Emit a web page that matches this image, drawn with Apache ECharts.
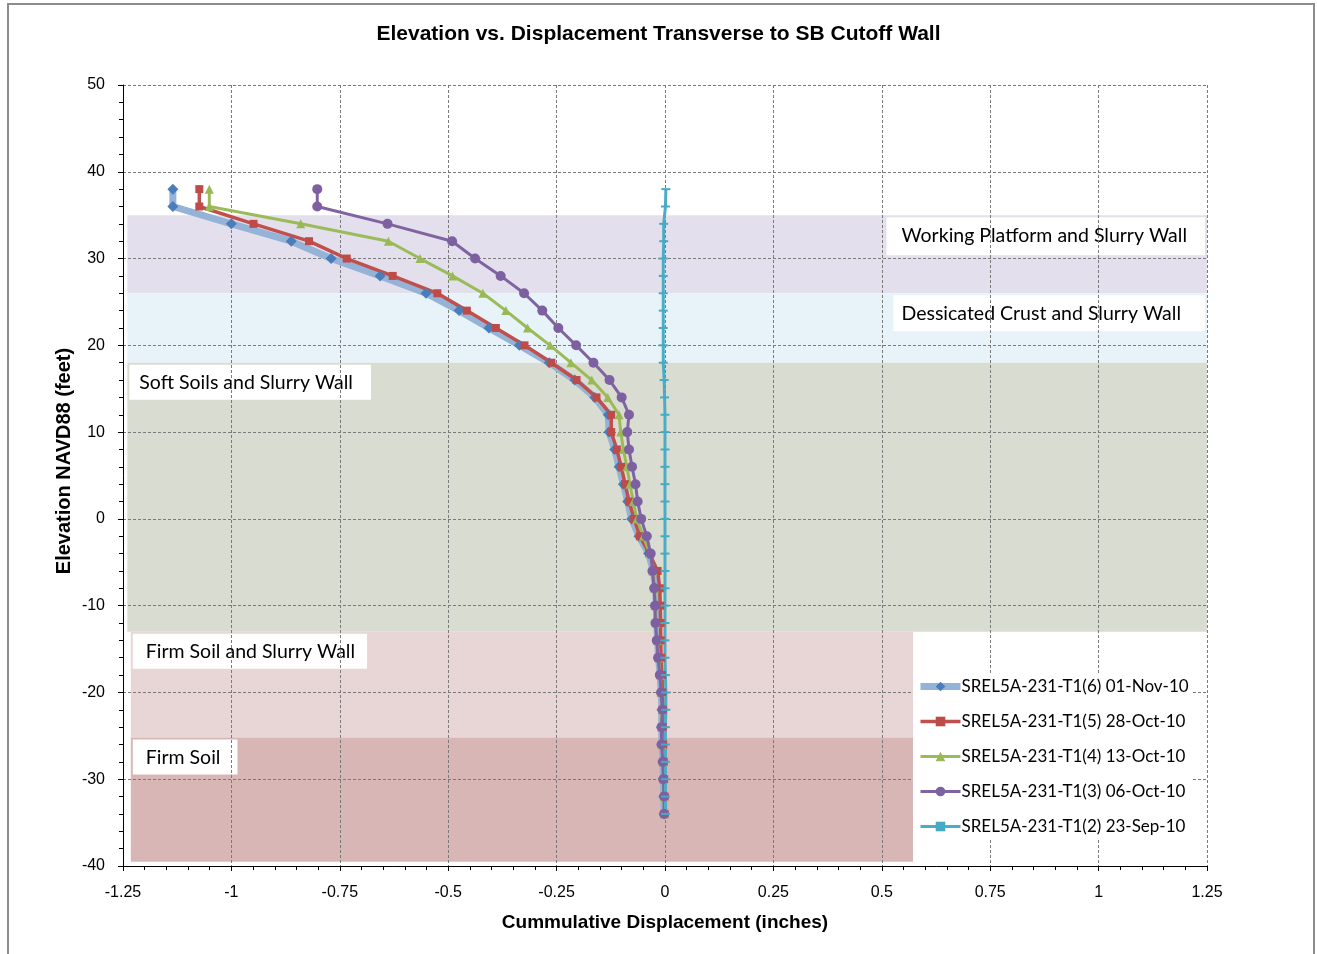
<!DOCTYPE html>
<html>
<head>
<meta charset="utf-8">
<script src="https://cdn.jsdelivr.net/npm/echarts@6/dist/echarts.min.js"></script>
<style>
html,body{margin:0;padding:0;background:#fff;}
#chart{width:1317px;height:954px;}
</style>
</head>
<body>
<div id="chart"></div>
<script>
// ---- data ----
var elevations = [38,36,34,32,30,28,26,24,22,20,18,16,14,12,10,8,6,4,2,0,-2,-4,-6,-8,-10,-12,-14,-16,-18,-20,-22,-24,-26,-28,-30,-32,-34];

var seriesNames = [
  'SREL5A-231-T1(6) 01-Nov-10',
  'SREL5A-231-T1(5) 28-Oct-10',
  'SREL5A-231-T1(4) 13-Oct-10',
  'SREL5A-231-T1(3) 06-Oct-10',
  'SREL5A-231-T1(2) 23-Sep-10'
];

var dispT6 = [-1.135,-1.135,-1.000,-0.862,-0.770,-0.657,-0.551,-0.475,-0.406,-0.336,-0.267,-0.208,-0.162,-0.131,-0.129,-0.116,-0.106,-0.096,-0.086,-0.077,-0.060,-0.038,-0.027,-0.022,-0.020,-0.019,-0.017,-0.015,-0.011,-0.009,-0.007,-0.008,-0.007,-0.005,-0.004,-0.003,-0.002];
var dispT5 = [-1.074,-1.074,-0.949,-0.821,-0.734,-0.628,-0.525,-0.457,-0.390,-0.324,-0.262,-0.204,-0.158,-0.124,-0.124,-0.111,-0.101,-0.092,-0.083,-0.071,-0.058,-0.036,-0.017,-0.012,-0.011,-0.010,-0.010,-0.009,-0.007,-0.006,-0.005,-0.005,-0.004,-0.003,-0.002,-0.001,-0.001];
var dispT4 = [-1.051,-1.051,-0.840,-0.638,-0.565,-0.490,-0.420,-0.367,-0.317,-0.265,-0.217,-0.169,-0.132,-0.106,-0.102,-0.096,-0.088,-0.081,-0.073,-0.065,-0.050,-0.035,-0.028,-0.024,-0.022,-0.021,-0.018,-0.015,-0.011,-0.009,-0.007,-0.008,-0.007,-0.005,-0.004,-0.002,-0.001];
var dispT3 = [-0.802,-0.802,-0.640,-0.491,-0.438,-0.379,-0.325,-0.283,-0.246,-0.205,-0.165,-0.128,-0.100,-0.083,-0.087,-0.083,-0.076,-0.068,-0.063,-0.055,-0.042,-0.033,-0.029,-0.025,-0.023,-0.022,-0.019,-0.016,-0.012,-0.009,-0.006,-0.008,-0.008,-0.005,-0.004,-0.002,-0.002];
var dispT2 = [0.002,0.001,-0.003,-0.003,-0.004,-0.004,-0.004,-0.004,-0.004,-0.004,-0.004,-0.002,-0.001,0.000,0.000,0.000,0.000,0.000,0.000,0.000,0.000,0.000,0.000,0.000,0.000,0.000,0.000,0.000,0.001,0.002,0.002,0.001,0.001,0.001,0.001,0.001,0.001];

// soil layers: name, top elevation, bottom elevation, left displacement, right displacement
var layerNames  = ['Working Platform and Slurry Wall','Dessicated Crust and Slurry Wall','Soft Soils and Slurry Wall','Firm Soil and Slurry Wall','Firm Soil'];
var layerTop    = [35, 26, 18, -13, -25.2];
var layerBottom = [26, 18, -13, -25.2, -39.5];
var layerLeft   = [-1.24, -1.24, -1.24, -1.232, -1.232];
var layerRight  = [1.25, 1.25, 1.25, 0.572, 0.572];

// ---- styles ----
var layerColors = ['#E4DFEC','#E7F3F9','#D9DCD0','#E8D5D6','#D8B6B6'];
var layerLabelPos = ['insideTopRight','insideTopRight','insideTopLeft','insideTopLeft','insideTopLeft'];
var layerLabelPad = [[9,18,9,15],[8,24,8,8],[8,18,7,10],[8,12,7,13],[8,17,7,13]];
var seriesLineColors = ['#95B3D7','#C0504D','#9BBB59','#8064A2','#4BACC6'];
var seriesLineWidths = [7, 3.5, 3, 3, 3];

function pairs(vals){ return vals.map(function(v,i){ return [v, elevations[i]]; }); }

var bandAreas = layerNames.map(function(n,i){
  return [{xAxis: layerLeft[i], yAxis: layerTop[i], itemStyle:{color: layerColors[i]}},
          {xAxis: layerRight[i], yAxis: layerBottom[i]}];
});
var labelAreas = layerNames.map(function(n,i){
  return [{name: n, xAxis: layerLeft[i], yAxis: layerTop[i],
           label:{position: layerLabelPos[i], padding: layerLabelPad[i]}},
          {xAxis: layerRight[i], yAxis: layerBottom[i]}];
});

var chart = echarts.init(document.getElementById('chart'), null, {renderer:'canvas'});
var tickFont = {fontFamily:'Liberation Sans', fontSize:16, color:'#000'};

var option = {
  backgroundColor:'#fff',
  animation:false,
  title:{
    text:'Elevation vs. Displacement Transverse to SB Cutoff Wall',
    left:'center', top:19,
    textStyle:{fontFamily:'Liberation Sans', fontWeight:'bold', fontSize:21, color:'#000'}
  },
  grid:{left:123, right:110, top:85, bottom:88},
  legend:{
    orient:'vertical', left:913, top:674,
    backgroundColor:'#fff',
    padding:[4,4,4,4],
    itemWidth:40, itemHeight:12, itemGap:18,
    textStyle:{fontFamily:'Lato', fontSize:17, color:'#000', padding:[0,0,0,-4]},
    data: seriesNames.map(function(n,i){
      return {name:n, lineStyle:{width: seriesLineWidths[i], color: seriesLineColors[i]}};
    })
  },
  xAxis:{
    type:'value', min:-1.25, max:1.25, interval:0.25, z:1.5,
    name:'Cummulative Displacement (inches)', nameLocation:'middle', nameGap:47,
    nameTextStyle:{fontFamily:'Liberation Sans', fontWeight:'bold', fontSize:19, color:'#000'},
    axisLine:{onZero:false, lineStyle:{color:'#000', width:1}},
    axisTick:{show:true, length:5, lineStyle:{color:'#000'}},
    minorTick:{show:true, splitNumber:5, length:4, lineStyle:{color:'#000'}},
    axisLabel:Object.assign({margin:19}, tickFont),
    splitLine:{show:true, lineStyle:{color:'#7a7a7a', type:[3,2], width:1}}
  },
  yAxis:{
    type:'value', min:-40, max:50, interval:10, z:1.5,
    axisLine:{show:true, onZero:false, lineStyle:{color:'#000', width:1}},
    axisTick:{show:true, length:5, lineStyle:{color:'#000'}},
    minorTick:{show:true, splitNumber:5, length:4, lineStyle:{color:'#000'}},
    axisLabel:Object.assign({margin:18}, tickFont),
    splitLine:{show:true, lineStyle:{color:'#7a7a7a', type:[3,2], width:1}}
  },
  graphic:[
    {type:'rect', shape:{x:8, y:4, width:1306, height:980}, style:{fill:'none', stroke:'#8c8c8c', lineWidth:2}, z:0, silent:true},
    {type:'text', x:64, y:461, rotation:Math.PI/2,
     style:{text:'Elevation NAVD88 (feet)', fontFamily:'Liberation Sans', fontWeight:'bold', fontSize:20, fill:'#000', align:'center', verticalAlign:'middle'}}
  ],
  series:[
    {type:'line', name:'bands', data:[], z:1, silent:true, legendHoverLink:false,
     markArea:{silent:true, itemStyle:{opacity:1}, label:{show:false}, data: bandAreas}},
    {type:'line', name:'bandLabels', data:[], z:1.8, silent:true,
     markArea:{silent:true, itemStyle:{color:'rgba(0,0,0,0)'},
       label:{show:true, distance:2, backgroundColor:'#fff', fontFamily:'Lato', fontSize:19.5, lineHeight:20, color:'#000'},
       data: labelAreas}},
    {type:'line', name:seriesNames[0], data:pairs(dispT6), z:2,
     symbol:'diamond', symbolSize:11, showAllSymbol:true,
     lineStyle:{color:seriesLineColors[0], width:seriesLineWidths[0]}, itemStyle:{color:'#4A7EBB'}},
    {type:'line', name:seriesNames[1], data:pairs(dispT5), z:2,
     symbol:'rect', symbolSize:8, showAllSymbol:true,
     lineStyle:{color:seriesLineColors[1], width:seriesLineWidths[1]}, itemStyle:{color:'#BE4B48'}},
    {type:'line', name:seriesNames[2], data:pairs(dispT4), z:2,
     symbol:'triangle', symbolSize:9, showAllSymbol:true,
     lineStyle:{color:seriesLineColors[2], width:seriesLineWidths[2]}, itemStyle:{color:'#98B954'}},
    {type:'line', name:seriesNames[3], data:pairs(dispT3), z:2,
     symbol:'circle', symbolSize:10, showAllSymbol:true,
     lineStyle:{color:seriesLineColors[3], width:seriesLineWidths[3]}, itemStyle:{color:'#7D60A0'}},
    {type:'line', name:seriesNames[4], data:pairs(dispT2), z:2,
     symbol:'path://M0,0h10v2h-10z', symbolSize:[9,2], showAllSymbol:true,
     lineStyle:{color:seriesLineColors[4], width:seriesLineWidths[4]}, itemStyle:{color:'#46AAC5'}}
  ]
};
chart.setOption(option);
</script>
</body>
</html>
